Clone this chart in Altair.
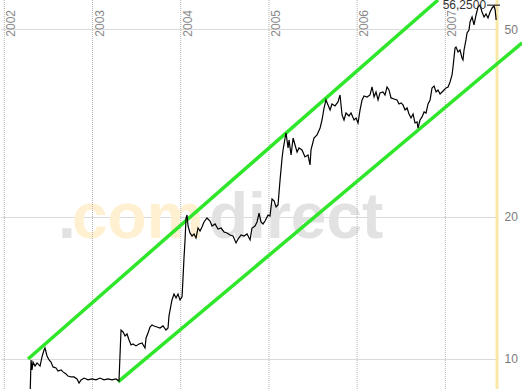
import altair as alt
import pandas as pd

# ---- price series (decimal year, price) ----
dates = [
    2002.291, 2002.303, 2002.314, 2002.325, 2002.348, 2002.371, 2002.405, 2002.427, 2002.450, 2002.461,
    2002.484, 2002.507, 2002.529, 2002.552, 2002.586, 2002.609, 2002.643, 2002.666, 2002.700, 2002.722,
    2002.756, 2002.790, 2002.824, 2002.847, 2002.870, 2002.904, 2002.949, 2002.994, 2003.040, 2003.085,
    2003.130, 2003.176, 2003.221, 2003.266, 2003.300, 2003.323, 2003.346, 2003.369, 2003.391, 2003.414,
    2003.437, 2003.459, 2003.493, 2003.527, 2003.561, 2003.595, 2003.607, 2003.629, 2003.652, 2003.675,
    2003.697, 2003.731, 2003.765, 2003.799, 2003.833, 2003.856, 2003.867, 2003.890, 2003.901, 2003.924,
    2003.947, 2003.969, 2003.992, 2004.015, 2004.026, 2004.037, 2004.049, 2004.060, 2004.071, 2004.083,
    2004.105, 2004.128, 2004.151, 2004.173, 2004.196, 2004.219, 2004.241, 2004.264, 2004.298, 2004.332,
    2004.355, 2004.389, 2004.423, 2004.457, 2004.491, 2004.525, 2004.559, 2004.593, 2004.627, 2004.650,
    2004.684, 2004.718, 2004.752, 2004.786, 2004.808, 2004.842, 2004.865, 2004.888, 2004.910, 2004.933,
    2004.956, 2004.990, 2005.012, 2005.035, 2005.058, 2005.081, 2005.103, 2005.126, 2005.149, 2005.160,
    2005.183, 2005.194, 2005.217, 2005.228, 2005.251, 2005.274, 2005.296, 2005.319, 2005.341, 2005.375,
    2005.409, 2005.443, 2005.466, 2005.477, 2005.511, 2005.545, 2005.580, 2005.602, 2005.625, 2005.647,
    2005.670, 2005.693, 2005.715, 2005.749, 2005.783, 2005.806, 2005.829, 2005.851, 2005.874, 2005.908,
    2005.931, 2005.965, 2005.988, 2006.010, 2006.033, 2006.056, 2006.078, 2006.112, 2006.146, 2006.169,
    2006.192, 2006.214, 2006.237, 2006.259, 2006.293, 2006.316, 2006.339, 2006.361, 2006.384, 2006.418,
    2006.452, 2006.475, 2006.498, 2006.520, 2006.543, 2006.566, 2006.588, 2006.611, 2006.634, 2006.656,
    2006.679, 2006.690, 2006.713, 2006.736, 2006.759, 2006.781, 2006.804, 2006.827, 2006.849, 2006.872,
    2006.895, 2006.917, 2006.940, 2006.963, 2006.985, 2007.008, 2007.031, 2007.053, 2007.076, 2007.087,
    2007.110, 2007.121, 2007.144, 2007.166, 2007.189, 2007.200, 2007.212, 2007.234, 2007.246, 2007.268,
    2007.280, 2007.303, 2007.325, 2007.348, 2007.371, 2007.393, 2007.416, 2007.439, 2007.461, 2007.484,
    2007.507, 2007.530, 2007.552, 2007.565, 2007.576,
]
prices = [
    8.19, 9.95, 9.48, 9.85, 9.66, 9.81, 9.66, 10.10, 10.45, 10.55,
    10.15, 9.95, 9.85, 9.62, 9.57, 9.43, 9.48, 9.39, 9.29, 9.20,
    9.16, 9.16, 9.07, 8.89, 9.03, 9.11, 9.03, 9.07, 9.03, 9.11,
    9.03, 9.07, 9.03, 9.07, 8.98, 11.52, 11.41, 11.19, 11.30, 10.97,
    10.71, 10.76, 10.66, 10.76, 10.81, 10.55, 11.08, 11.35, 11.69, 11.81,
    11.75, 11.69, 11.63, 11.75, 11.52, 11.63, 12.34, 13.02, 13.34, 13.73,
    13.47, 13.73, 13.34, 13.54, 14.85, 16.37, 17.88, 19.90, 20.20, 19.14,
    18.50, 18.23, 18.41, 18.05, 18.95, 18.68, 19.05, 19.52, 19.90, 19.61,
    19.14, 19.33, 18.86, 18.95, 18.59, 18.50, 18.32, 18.23, 17.62, 17.96,
    18.32, 18.23, 18.41, 17.88, 18.95, 19.14, 19.52, 20.39, 19.52, 19.33,
    19.61, 20.20, 20.10, 21.84, 21.63, 21.00, 21.21, 23.96, 26.68, 27.74,
    29.41, 30.14, 28.01, 29.13, 27.07, 29.41, 28.42, 27.47, 28.01, 27.74,
    26.81, 27.07, 25.78, 27.74, 29.41, 29.85, 30.88, 32.11, 34.05, 35.41,
    34.56, 33.72, 34.72, 34.39, 35.07, 36.28, 32.91, 32.11, 33.23, 32.75,
    33.23, 32.11, 32.43, 31.65, 33.72, 35.41, 36.11, 35.93, 36.28, 37.73,
    35.93, 36.82, 35.41, 36.64, 36.82, 36.28, 37.73, 37.18, 35.76, 35.58,
    35.41, 34.72, 34.90, 34.56, 33.72, 34.05, 33.07, 32.43, 33.07, 31.65,
    31.80, 30.88, 32.11, 32.59, 33.40, 33.23, 34.72, 35.41, 37.55, 37.91,
    36.82, 37.18, 36.46, 36.82, 37.18, 37.55, 37.73, 38.66, 40.00, 41.59,
    45.63, 45.86, 44.75, 45.19, 43.46, 43.04, 45.19, 47.46, 49.11, 49.83,
    51.81, 53.09, 51.06, 53.61, 55.75, 56.25, 54.40, 53.09, 53.88, 52.84,
    54.40, 55.48, 56.02, 54.94, 52.32,
]

# ---- trend channel (start/end points) ----
upper_t = [2002.269, 2006.917]
upper_p = [10.0, 57.69]
lower_t = [2003.289, 2007.870]
lower_p = [8.94, 46.77]

# ---- axes / annotations ----
grid_years = [2002, 2003, 2004, 2005, 2006, 2007]
year_labels = ["2002", "2003", "2004", "2005", "2006", "2007"]
y_ticks = [10, 20, 50]
last_date = [2007.586]
last_value = [56.25]
last_label = ["56,2500"]
last_span = [2007.473, 2007.620]
watermark = [".", "com", "direct"]

X_DOMAIN = [2001.951, 2007.597]
Y_DOMAIN = [8.637, 57.68]
W, H = 498, 389

xscale = alt.Scale(domain=X_DOMAIN, nice=False, zero=False)
yscale = alt.Scale(type="log", domain=Y_DOMAIN, nice=False)
yaxis = alt.Axis(orient="right", values=y_ticks, grid=True, gridColor="#b4b4b4",
                 gridDash=[1, 1], gridWidth=1, domain=False, ticks=False,
                 labelPadding=6, labelFontSize=12, labelFont="Liberation Sans",
                 labelColor="#7a7a7a", format="d", title=None)


def X(f="t"):
    return alt.X(f + ":Q", scale=xscale, axis=None)


def Y(f="p"):
    return alt.Y(f + ":Q", scale=yscale, axis=yaxis)


price_df = pd.DataFrame({"t": dates, "p": prices})
chan_df = pd.DataFrame({
    "t": upper_t + lower_t,
    "p": upper_p + lower_p,
    "line": ["upper", "upper", "lower", "lower"],
})
grid_df = pd.DataFrame({"t": grid_years, "label": year_labels})
last_df = pd.DataFrame({"t": [last_span[0]], "t2": [last_span[1]], "p": last_value,
                        "label": last_label})
mark_df = pd.DataFrame({"t": last_date})

wm_font = "Liberation Sans"
wm_size = 64


def wm(s, xpos, col):
    return alt.Chart(pd.DataFrame({"s": [s]})).mark_text(
        font=wm_font, fontWeight="bold", fontSize=wm_size, align="left",
        baseline="alphabetic", color=col).encode(
        x=alt.value(xpos), y=alt.value(238), text="s:N")


wm1 = wm(watermark[0], 58, "#e2e2e2")
wm2 = wm(watermark[1], 72, "#fef0d0")
wm3 = wm(watermark[2], 209, "#e2e2e2")

# base layer carrying the y axis (horizontal grid)
base = alt.Chart(price_df).mark_line(opacity=0).encode(x=X(), y=Y())

vgrid = alt.Chart(grid_df).mark_rule(color="#b4b4b4", strokeDash=[1, 1], strokeWidth=1).encode(
    x=X(), y=alt.value(0), y2=alt.value(H))

ylabels = alt.Chart(grid_df).mark_text(
    angle=270, align="right", baseline="top", fontSize=12, font="Liberation Sans",
    color="#8a8a8a", dy=2).encode(x=X(), y=alt.value(10), text="label:N")

yellow = alt.Chart(mark_df).mark_rule(color="#fae8a6", strokeWidth=3).encode(
    x=X(), y=alt.value(0), y2=alt.value(H))

channel = alt.Chart(chan_df).mark_line(color="#2fe62a", strokeWidth=3.5).encode(
    x=X(), y=Y(), detail="line:N")

price = alt.Chart(price_df).mark_line(color="black", strokeWidth=1.2, clip=True).encode(
    x=X(), y=Y())

last_rule = alt.Chart(last_df).mark_rule(color="black", strokeWidth=1).encode(
    x=X(), x2="t2:Q", y=Y())
last_text = alt.Chart(last_df).mark_text(
    align="right", baseline="alphabetic", dx=-1, dy=3.5, fontSize=12,
    font="Liberation Sans", color="#333333").encode(x=X(), y=Y(), text="label:N")

chart = alt.layer(
    wm1, wm2, wm3, base, vgrid, yellow, ylabels, channel, price, last_rule, last_text
).properties(
    width=W, height=H,
    padding={"left": 0, "top": 0, "right": 24, "bottom": 0},
    autosize=alt.AutoSizeParams(type="none"),
    background="white",
).configure_view(stroke="transparent")

chart.save("out.html", embed_options={"renderer": "svg", "actions": False})
